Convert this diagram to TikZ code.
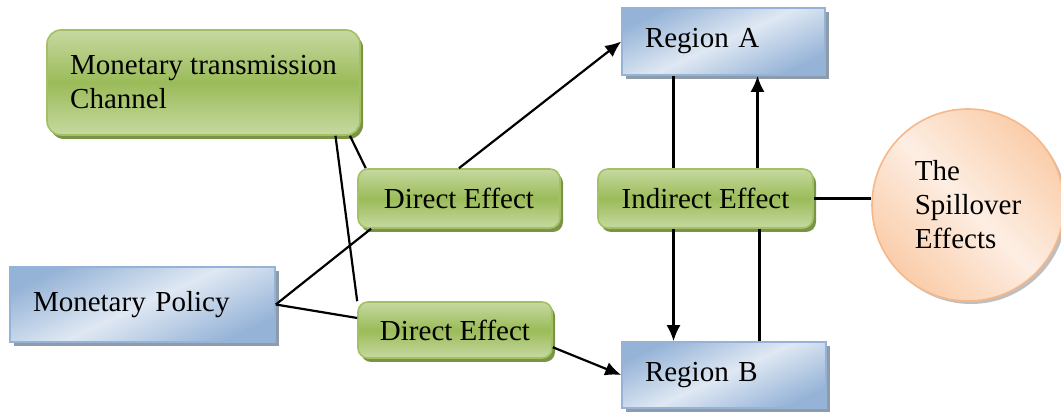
\documentclass[tikz,border=0pt]{standalone}
\usepackage{fontspec}
\setmainfont{Liberation Serif}
\usetikzlibrary{shadows,arrows.meta}
\definecolor{boxgreen}{HTML}{9BBB59}
\definecolor{boxgreenlight}{HTML}{C6D9A0}
\definecolor{greenline}{HTML}{A3C164}
\definecolor{greenshadow}{HTML}{7A9446}
\definecolor{boxblue}{HTML}{95B3D7}
\definecolor{boxbluelight}{HTML}{DFE8F3}
\definecolor{blueshadow}{HTML}{8E9BAB}
\definecolor{peach}{HTML}{FACDAA}
\definecolor{peachlight}{HTML}{FDEEE3}
\definecolor{peachline}{HTML}{F5B88A}

\begin{document}
\begin{tikzpicture}[
  x=0.5pt, y=-0.5pt,
  txt/.style={font=\fontsize{14.5}{17}\selectfont},
  effect/.style={rectangle, rounded corners=5pt, draw=greenline, line width=0.8pt,
    top color=boxgreenlight, bottom color=boxgreenlight, middle color=boxgreen,
    drop shadow={shadow xshift=1.5pt, shadow yshift=-2pt, fill=greenshadow, opacity=1},
    inner sep=0pt, txt},
  region/.style={rectangle, draw=boxblue, line width=0.8pt,
    top color=boxblue, bottom color=boxblue, middle color=boxbluelight, shading angle=25,
    drop shadow={shadow xshift=2pt, shadow yshift=-2pt, fill=blueshadow, opacity=1},
    inner xsep=11.5pt, inner ysep=0pt, align=left, txt},
  spill/.style={circle, draw=peachline, line width=0.8pt,
    top color=peach, bottom color=peach, middle color=peachlight, shading angle=-45,
    drop shadow={shadow xshift=1.5pt, shadow yshift=-1.5pt, fill=gray!50, opacity=1},
    minimum size=96pt, inner sep=0pt, align=left, txt},
  link/.style={line width=1.1pt},
  >={Latex[length=8pt,width=7pt]}
]
\useasboundingbox (0,0) rectangle (1061,415);

\node[effect, rounded corners=7pt, minimum width=156.5pt, minimum height=52.5pt,
  align=left] (channel) at (203.5,82.5) {Monetary transmission\\Channel};
\node[region, minimum width=132.5pt, minimum height=37.5pt, text width=109.5pt] (policy) at (142.5,304.5) {Monetary Policy};
\node[effect, minimum width=101pt, minimum height=29.5pt] (direct1) at (459,198.5) {Direct Effect};
\node[effect, minimum width=97pt, minimum height=28pt] (direct2) at (455,330) {Direct Effect};
\node[region, minimum width=101.5pt, minimum height=33.5pt, text width=78.5pt] (regionA) at (723.5,41.5) {Region A};
\node[region, minimum width=102pt, minimum height=33pt, text width=79pt] (regionB) at (724,375) {Region B};
\node[effect, minimum width=107.5pt, minimum height=29.5pt] (indirect) at (705.5,198.5) {Indirect Effect};
\node[spill] (spillover) at (968,205) {The\\Spillover\\Effects};

% policy and channel into the direct effects
\draw[link] (policy.east) -- (direct1.-161);
\draw[link] (policy.east) -- (direct2.173);
\draw[link] (channel.-22.5) -- (direct2.north west);
\draw[link] (channel.-20) -- (direct1.162);

% direct effects on the regions
\draw[link,->] (direct1.north) -- (regionA.west);
\draw[link,->] (direct2.-10) -- (regionB.west);

% indirect effect between the regions
\draw[link] ([xshift=-16pt]indirect.north) -- ([xshift=-16pt]indirect.north |- regionA.south);
\draw[link,->] ([xshift=26pt]indirect.north) -- ([xshift=26pt]indirect.north |- regionA.south);
\draw[link,->] ([xshift=-16pt]indirect.south) -- ([xshift=-16pt]indirect.south |- regionB.north);
\draw[link] ([xshift=27pt]indirect.south) -- ([xshift=27pt]indirect.south |- regionB.north);
\draw[link] (indirect.east) -- (indirect.east -| spillover.west);
\end{tikzpicture}
\end{document}
